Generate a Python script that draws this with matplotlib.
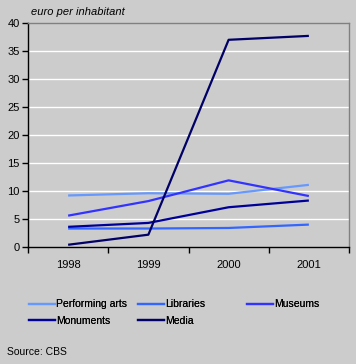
import matplotlib
matplotlib.use("Agg")
import matplotlib.pyplot as plt
from matplotlib.lines import Line2D

plt.rcParams['font.family'] = ['Liberation Sans', 'DejaVu Sans']

years = ["1998", "1999", "2000", "2001"]
performing_arts = [9.2, 9.6, 9.5, 11.1]
libraries = [3.3, 3.3, 3.4, 4.0]
museums = [5.6, 8.2, 11.9, 9.1]
monuments = [3.6, 4.3, 7.1, 8.3]
media = [0.4, 2.2, 37.0, 37.7]

series = [
    ("Performing arts", performing_arts, "#6699ff"),
    ("Libraries", libraries, "#3366ff"),
    ("Museums", museums, "#3333ff"),
    ("Monuments", monuments, "#000099"),
    ("Media", media, "#000066"),
]

bg = "#cccccc"
fig = plt.figure(figsize=(3.56, 3.64), dpi=100, facecolor=bg)
ax = fig.add_axes([28/356, 1-247/364, (349-28)/356, (247-23)/364])
ax.set_facecolor(bg)

x = list(range(len(years)))
for name, vals, col in series:
    ax.plot(x, vals, color=col, lw=1.6, solid_capstyle='butt')

ax.set_xlim(-0.5, 3.5)
ax.set_ylim(0, 40)
ax.set_yticks(range(0, 41, 5))
ax.set_xticks(x)
ax.set_xticklabels(years)
ax.set_xticks([-0.5, 0.5, 1.5, 2.5, 3.5], minor=True)
ax.tick_params(axis='x', which='major', length=0, pad=9, labelsize=8)
ax.tick_params(axis='x', which='minor', length=4, width=1, direction='out')
ax.tick_params(axis='y', length=4, width=1, direction='out', labelsize=8, pad=2)
for v in range(5, 40, 5):
    ax.axhline(v, color='white', lw=1, zorder=0)
ax.spines['left'].set_color('black')
ax.spines['bottom'].set_color('black')
ax.spines['top'].set_color('#808080')
ax.spines['right'].set_color('#808080')
for s in ax.spines.values():
    s.set_linewidth(1)

fig.text(31/356, 1-12/364, "euro per inhabitant", fontsize=8, style='italic', va='center')

# legend: row-major layout, three columns placed by hand
col_x = [20/356, 129/356, 238/356]
columns = [[0, 3], [1, 4], [2]]
for cx, idxs in zip(col_x, columns):
    hs = [Line2D([], [], color=series[i][2], lw=1.6) for i in idxs]
    ls = [series[i][0] for i in idxs]
    leg = fig.legend(hs, ls, loc='upper left', bbox_to_anchor=(cx, 1-290/364),
                     frameon=False, fontsize=7.5, handlelength=2.5, handletextpad=0.1,
                     labelspacing=0.6)
    fig.add_artist(leg)

fig.text(7/356, 1-352/364, "Source: CBS", fontsize=7.5, va='center')

fig.savefig("out.png", dpi=100, facecolor=bg)
